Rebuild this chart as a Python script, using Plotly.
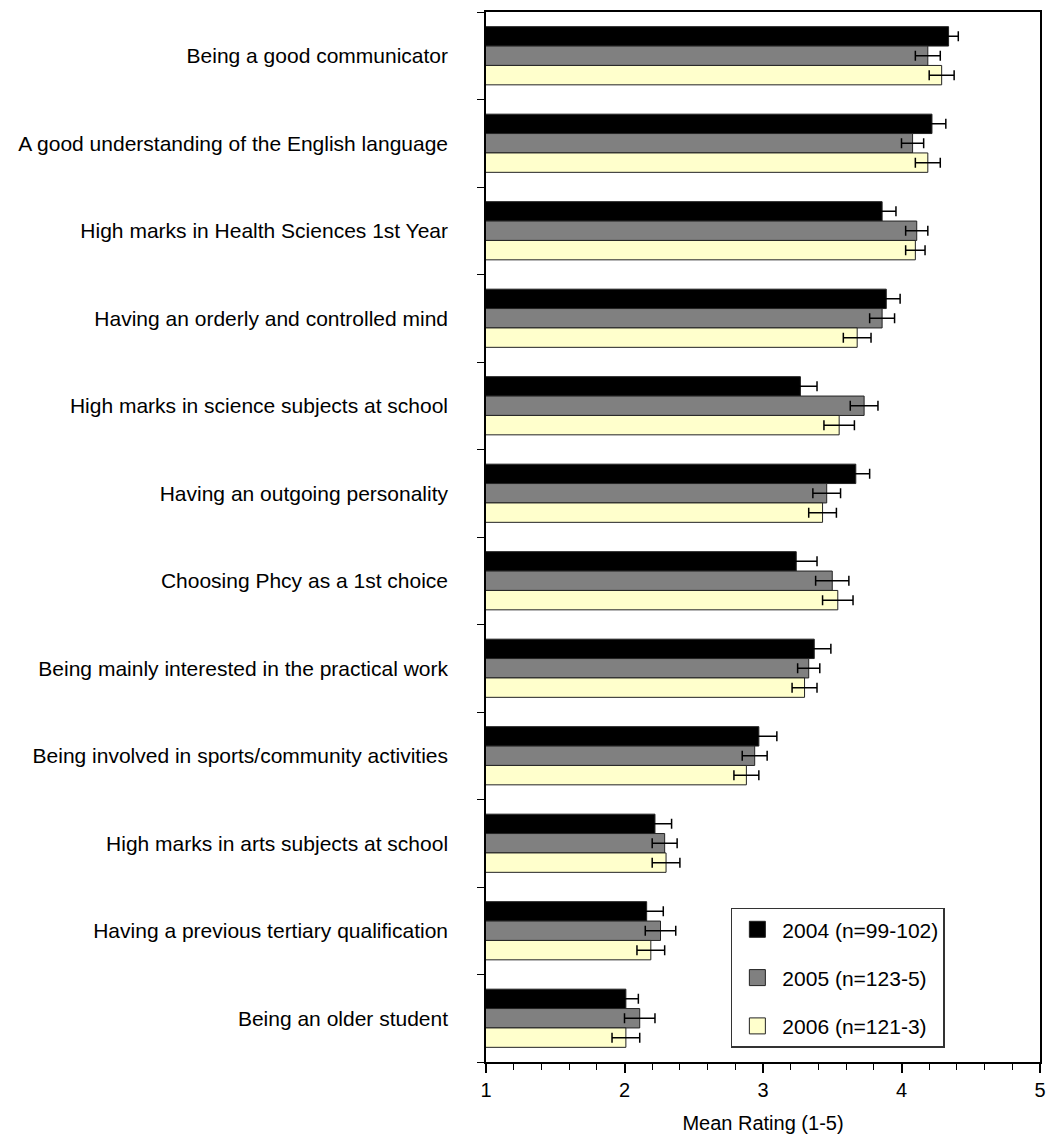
import plotly.graph_objects as go

categories = [
    "Being a good communicator",
    "A good understanding of the English language",
    "High marks in Health Sciences 1st Year",
    "Having an orderly and controlled mind",
    "High marks in science subjects at school",
    "Having an outgoing personality",
    "Choosing Phcy as a 1st choice",
    "Being mainly interested in the practical work",
    "Being involved in sports/community activities",
    "High marks in arts subjects at school",
    "Having a previous tertiary qualification",
    "Being an older student",
]

series_names = ["2004 (n=99-102)", "2005 (n=123-5)", "2006 (n=121-3)"]

mean_2004 = [4.34, 4.22, 3.86, 3.89, 3.27, 3.67, 3.24, 3.37, 2.97, 2.22, 2.16, 2.01]
err_2004 = [0.07, 0.10, 0.10, 0.10, 0.12, 0.10, 0.15, 0.12, 0.13, 0.12, 0.12, 0.09]
mean_2005 = [4.19, 4.08, 4.11, 3.86, 3.73, 3.46, 3.50, 3.33, 2.94, 2.29, 2.26, 2.11]
err_2005 = [0.09, 0.08, 0.08, 0.09, 0.10, 0.10, 0.12, 0.08, 0.09, 0.09, 0.11, 0.11]
mean_2006 = [4.29, 4.19, 4.10, 3.68, 3.55, 3.43, 3.54, 3.30, 2.88, 2.30, 2.19, 2.01]
err_2006 = [0.09, 0.09, 0.07, 0.10, 0.11, 0.10, 0.11, 0.09, 0.09, 0.10, 0.10, 0.10]

x_tick_vals = [1, 2, 3, 4, 5]
x_title = "Mean Rating (1-5)"

colors = ["#000000", "#808080", "#FFFFCC"]
FONT = "Liberation Sans, Arial, Helvetica, sans-serif"

positions = list(range(len(categories)))
means = [mean_2004, mean_2005, mean_2006]
errs = [err_2004, err_2005, err_2006]

fig = go.Figure()
for name, m, e, c in zip(series_names, means, errs, colors):
    fig.add_trace(go.Bar(
        y=positions, x=m, orientation="h", name=name,
        marker=dict(color=c, line=dict(color="#222222", width=1)),
        error_x=dict(type="data", array=e, visible=True, color="#000000",
                     thickness=1.5, width=5),
        showlegend=False,
    ))
# legend entries (larger square swatches)
for i, (name, c) in enumerate(zip(series_names, colors)):
    fig.add_trace(go.Scatter(
        x=[None], y=[None], mode="markers", name=name,
        marker=dict(symbol="square", size=18, color=c,
                    line=dict(color="#222222", width=1)),
        legendgroup=f"g{i}", showlegend=True,
    ))

fig.update_layout(
    width=1050, height=1135,
    margin=dict(l=486, r=4, t=12, b=72),
    paper_bgcolor="white", plot_bgcolor="white",
    barmode="group", bargap=0.335, bargroupgap=0,
    font=dict(family=FONT, size=21, color="#000000"),
    legend=dict(
        x=0.442, y=0.147, xanchor="left", yanchor="top",
        bordercolor="#333333", borderwidth=1.5, bgcolor="white",
        font=dict(size=21), tracegroupgap=18, itemsizing="trace",
        traceorder="grouped", itemwidth=40,
    ),
)

fig.update_xaxes(
    range=[1, 5], tickvals=x_tick_vals, ticks="outside", ticklen=9,
    tickwidth=1.5, tickcolor="#000000", ticklabeloverflow="allow",
    minor=dict(dtick=0.2, tick0=1, ticks="outside", ticklen=6,
               tickwidth=1.2, tickcolor="#000000"),
    showline=True, linecolor="#000000", linewidth=1.5, mirror=True,
    showgrid=False, zeroline=False,
    tickfont=dict(size=20),
    title=dict(text=x_title, font=dict(size=20), standoff=16),
)
fig.update_yaxes(
    range=[len(categories) - 0.5, -0.5],
    tickvals=positions, ticktext=categories, ticks="",
    ticklabelstandoff=32,
    minor=dict(tick0=0.5, dtick=1, ticks="outside", ticklen=7,
               tickwidth=1.2, tickcolor="#000000", showgrid=False),
    showline=True, linecolor="#000000", linewidth=1.5, mirror=True,
    showgrid=False, zeroline=False,
)

fig.write_html("out.html")
